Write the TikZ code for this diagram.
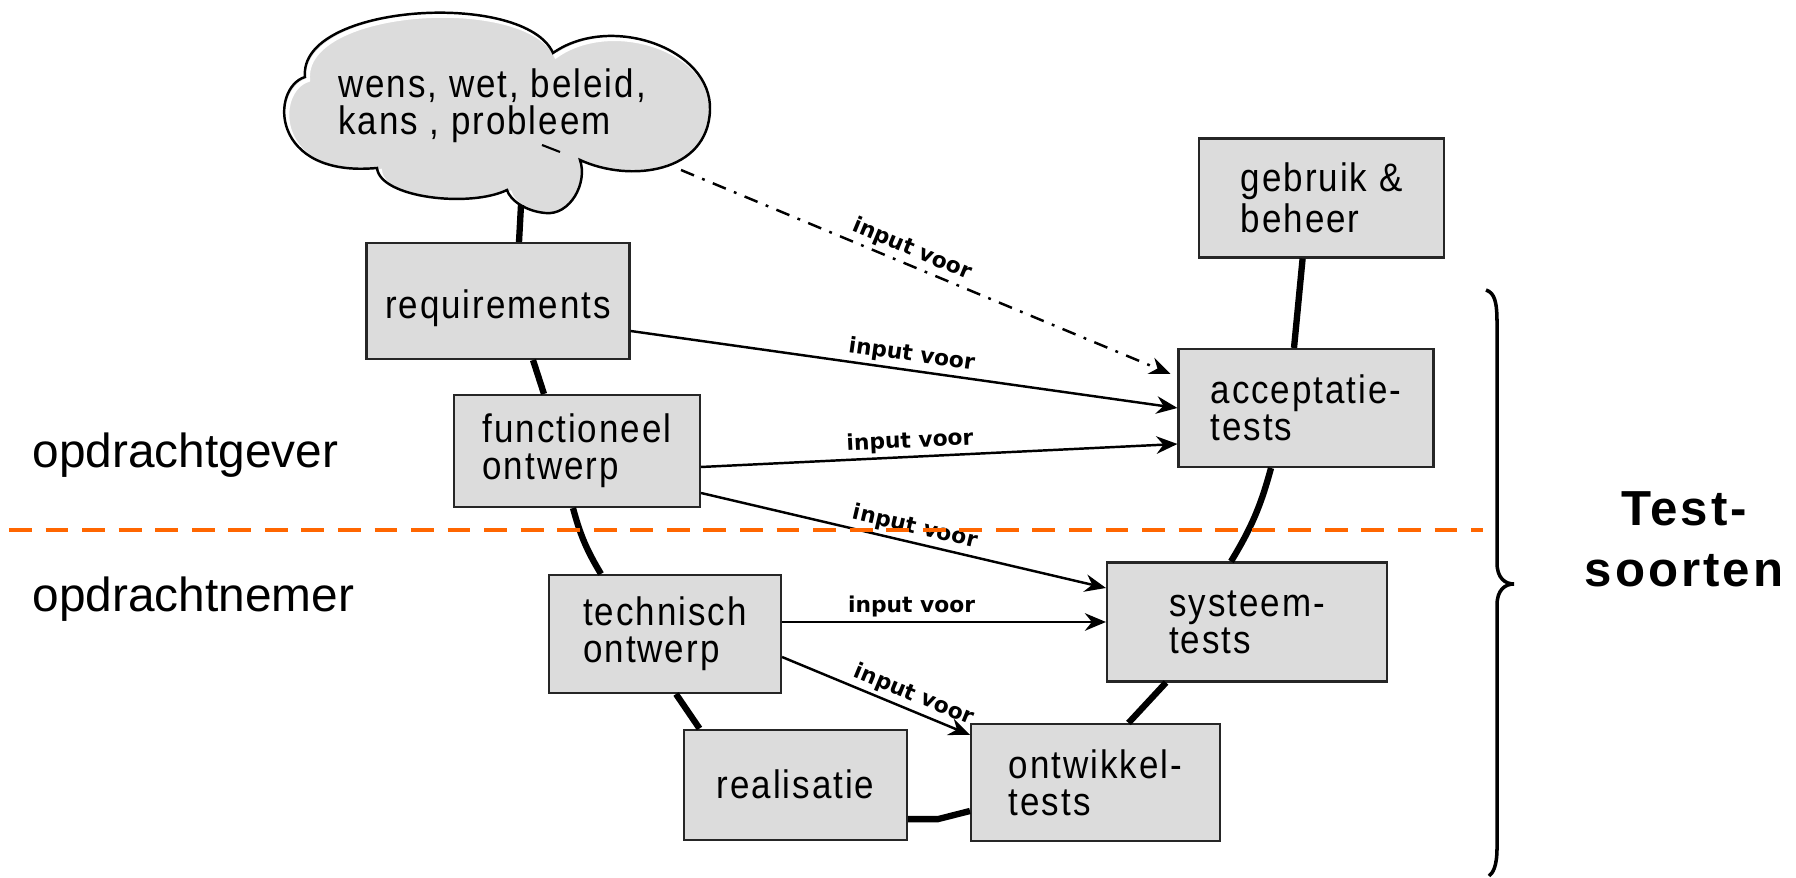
\documentclass[tikz,border=0pt]{standalone}
\usepackage{fontspec}
\setmainfont{Liberation Sans}
\newfontfamily\boxfont{Liberation Sans}[FakeStretch=0.88,LetterSpace=5]
\newfontfamily\bracefont{Liberation Sans}[LetterSpace=6]
\newfontfamily\labelfont{DejaVu Sans}
\usepackage{tikz}
\usetikzlibrary{arrows.meta,positioning,calc}

\definecolor{boxgrey}{RGB}{220,220,220}
\definecolor{splitorange}{RGB}{255,102,0}

\begin{document}
\begin{tikzpicture}[
  box/.style={rectangle, draw=black!85, fill=boxgrey, line width=0.6pt, align=left, font=\boxfont\fontsize{11.3}{10.5}\selectfont},
  arrow/.style={-{Stealth[length=6pt,width=5pt,inset=2pt]}, line width=0.7pt},
  vline/.style={line width=1.8pt},
  lbl/.style={font=\labelfont\bfseries\fontsize{6.2}{7}\selectfont, sloped, above, inner sep=1pt},
  side/.style={anchor=west, inner sep=0pt, font=\fontsize{13.6}{16}\selectfont}]

\useasboundingbox (0,0) rectangle (17.96,8.78);

% cloud
\path[save path=\cloudshape] (3.05,8.01) .. controls (2.98,8.75) and (5.25,8.88) .. (5.53,8.25)
  .. controls (6.1,8.65) and (7.12,8.3) .. (7.10,7.68)
  .. controls (7.08,7.05) and (6.3,6.95) .. (5.80,7.18)
  .. controls (5.88,6.95) and (5.70,6.62) .. (5.45,6.65)
  .. controls (5.25,6.67) and (5.10,6.78) .. (5.07,6.88)
  .. controls (4.7,6.7) and (3.8,6.8) .. (3.77,7.10)
  .. controls (2.7,7.0) and (2.7,7.9) .. (3.05,8.01) -- cycle;
\fill[boxgrey, use path=\cloudshape];
\begin{scope}
  \clip[use path=\cloudshape];
  \draw[white, line width=1.2pt, use path=\cloudshape, transform canvas={shift={(0.03,-0.03)}}];
\end{scope}
\draw[line width=0.7pt, use path=\cloudshape];
\draw[line width=0.6pt] (5.42,7.33) -- (5.60,7.26);

\node[align=left, inner sep=0pt, font=\boxfont\fontsize{11.3}{9.6}\selectfont] (wens) at (4.92,7.72) {wens, wet, beleid,\\kans , probleem};
\coordinate (cloudfoot) at (5.21,6.73);
\coordinate (cloudtail) at (6.81,7.08);

\node[box, minimum width=2.63cm, minimum height=1.16cm, text height=12.5pt] (requirements) at (4.98,5.77) {requirements};
\node[box, minimum width=2.46cm, minimum height=1.12cm] (functioneel) at (5.77,4.27) {functioneel\\ontwerp};
\node[box, minimum width=2.32cm, minimum height=1.18cm] (technisch) at (6.65,2.44) {technisch\\ontwerp};
\node[box, minimum width=2.23cm, minimum height=1.10cm] (realisatie) at (7.955,0.934) {realisatie};
\node[box, minimum width=2.49cm, minimum height=1.17cm] (ontwikkel) at (10.955,0.955) {ontwikkel-\\tests};
\node[box, minimum width=2.80cm, minimum height=1.19cm] (systeem) at (12.47,2.56) {systeem-\\tests};
\node[box, minimum width=2.55cm, minimum height=1.18cm] (acceptatie) at (13.06,4.70) {acceptatie-\\tests};
\node[box, minimum width=2.45cm, minimum height=1.19cm] (gebruik) at (13.216,6.80) {gebruik \&\\beheer};

\node[side] (gever) at (0.32,4.23) {opdrachtgever};
\node[side] (nemer) at (0.32,2.79) {opdrachtnemer};
\node[align=center, font=\bracefont\bfseries\fontsize{14}{17.4}\selectfont] (soorten) at (16.84,3.39) {Test-\\soorten};

% V line
\draw[vline] (cloudfoot) -- ($(requirements.north)+(0.21,0)$);
\draw[vline] ($(requirements.south)+(0.35,0)$) -- ($(functioneel.north)+(-0.33,0)$);
\draw[vline] ($(functioneel.south)+(-0.04,0)$) to[bend right=8] ($(technisch.north)+(-0.64,0)$);
\draw[vline] ($(technisch.south)+(0.11,0)$) -- ($(realisatie.north)+(-0.96,0)$);
\draw[vline] ($(realisatie.east)+(0,-0.345)$) -- ++(0.3,0) -- ($(ontwikkel.west)+(0,-0.285)$);
\draw[vline] ($(ontwikkel.north)+(0.33,0)$) -- ($(systeem.south)+(-0.81,0)$);
\draw[vline] ($(systeem.north)+(-0.16,0)$) to[bend right=8] ($(acceptatie.south)+(-0.35,0)$);
\draw[vline] ($(acceptatie.north)+(-0.12,0)$) -- ($(gebruik.south)+(-0.19,0)$);

% Arrows
\draw[arrow, dash pattern=on 4pt off 2.5pt on 0.8pt off 2.5pt] (cloudtail) -- node[lbl, pos=0.46] {input voor} ($(acceptatie.north west)+(-0.07,-0.26)$);
\draw[arrow] ($(requirements.east)+(0,-0.30)$) -- node[lbl, pos=0.51] {input voor} (acceptatie.west);
\draw[arrow] ($(functioneel.east)+(0,-0.16)$) -- node[lbl, pos=0.44] {input voor} ($(acceptatie.west)+(0,-0.36)$);
\draw[arrow] ($(functioneel.east)+(0,-0.42)$) -- node[lbl, pos=0.52] {input voor} ($(systeem.west)+(0,0.34)$);
\draw[arrow] (technisch.east |- systeem.west) -- node[lbl, pos=0.4] {input voor} (systeem.west);
\draw[arrow] ($(technisch.east)+(0,-0.23)$) -- node[lbl, pos=0.67] {input voor} ($(ontwikkel.north west)+(0,-0.12)$);

% opdrachtgever / opdrachtnemer
\draw[splitorange, line width=1.3pt, dash pattern=on 6.5pt off 3.9pt] (0.09,3.48) -- (14.83,3.48);

% brace
\draw[line width=1pt] (14.86,5.88) .. controls (14.95,5.85) and (14.97,5.75) .. (14.97,5.55) -- (14.97,3.15)
  .. controls (14.97,3.0) and (15.05,2.94) .. (15.14,2.94)
  .. controls (15.05,2.94) and (14.97,2.88) .. (14.97,2.73) -- (14.97,0.3)
  .. controls (14.97,0.12) and (14.93,0.05) .. (14.89,0.02);

\end{tikzpicture}
\end{document}
